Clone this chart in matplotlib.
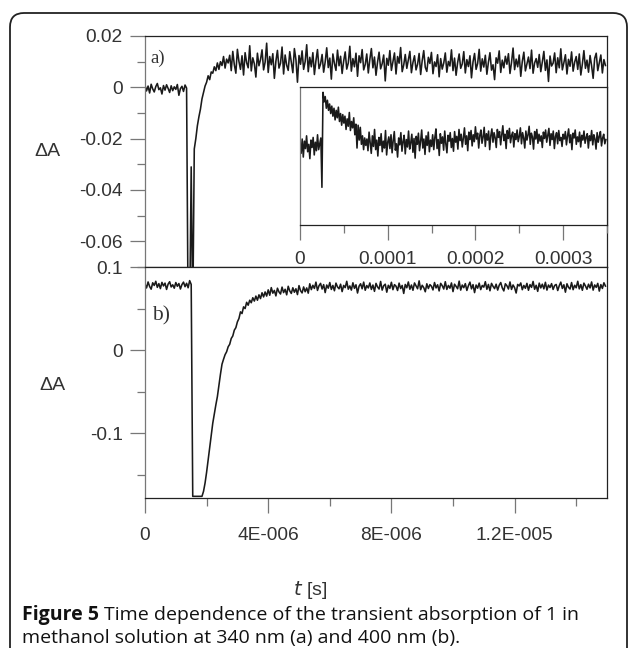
import numpy as np
import matplotlib
matplotlib.use("Agg")
import matplotlib.pyplot as plt
from matplotlib.patches import FancyBboxPatch
from matplotlib.ticker import MultipleLocator, FixedLocator, FixedFormatter

plt.rcParams['font.family'] = ['Liberation Sans', 'DejaVu Sans']

# sampling of the two main traces (s)
dt_main = 5e-8
# sampling of the long-time inset trace (s)
dt_inset = 1.25e-6

# panel a) 340 nm, dA in units of 1e-4
dA_340 = [
    8, -14, 5, -22, 12, -6, -18, 3, 15, -9, -2, -26, 7, -11, 10, -4, -20, 6, -13, 2,
    -8, 11, -31, -5, 4, -16, 9, -3,
    -900, -900, -310, -900, -240, -200, -150, -115, -85, -45, -20, 5, 20, 45, 30, 60,
    55, 80, 65, 95, 70, 100, 85, 120, 75, 110, 95,
    125, 65, 140, 88, 55, 148, 101, 70, 123, 48, 135, 96, 76, 162, 64, 115, 92, 40, 133, 84,
    108, 146, 68, 98, 172, 58, 120, 88, 131, 35, 102, 144, 75, 94, 157, 52, 126, 86, 66, 139,
    97, 57, 151, 108, 20, 124, 90, 142, 70, 100, 166, 61, 117, 80, 135, 50, 104, 147, 73, 91,
    128, 59, 99, 154, 77, 114, 32, 130, 93, 66, 145, 84, 121, 54, 102, 138, 71, 95, 160, 63,
    112, 80, 133, 43, 123, 96, 147, 68, 89, 130, 56, 109, 151, 76, 118, 47, 98, 137, 72, 92,
    126, 25, 113, 86, 143, 66, 101, 134, 52, 120, 94, 155, 61, 87, 128, 74, 106, 140, 57, 97,
    123, 68, 90, 132, 50, 104, 143, 78, 62, 117, 93, 136, 53, 99, 81, 127, 41, 112, 71, 95,
    134, 59, 101, 83, 146, 65, 114, 47, 96, 130, 74, 91, 139, 56, 108, 81, 123, 37, 99, 132,
    70, 93, 148, 63, 111, 79, 125, 51, 98, 135, 67, 88, 30, 115, 94, 142, 58, 106, 76, 121,
    90, 131, 54, 97, 153, 69, 110, 80, 126, 43, 101, 137, 64, 92, 118, 73, 145, 55, 95, 112,
    78, 128, 61, 99, 140, 66, 107, 23, 122, 83, 94, 134, 57, 115, 76, 150, 68, 96, 127, 52,
    109, 82, 138, 63, 98, 120, 70, 130, 48, 91, 143, 74, 106, 59, 124, 84, 35, 113, 133, 65,
    96, 126, 56, 108, 85,
]

# panel b) 400 nm, dA in units of 1e-4
dA_400 = [
    795, 748, 820, 766, 733, 810, 778, 828, 755, 800, 740, 815, 772, 806, 730, 794, 823, 760,
    786, 745, 813, 768, 801, 735, 789, 818, 763, 804, 750, 836, 790,
    -1760, -1760, -1760, -1760, -1760, -1760, -1760,
    -1700, -1600, -1470, -1320, -1170, -1010, -880, -770, -660, -560, -420, -290, -170, -110,
    -55, -20, 40, 70, 140, 170, 240, 270, 340, 380, 460, 440, 520, 500, 575, 540, 600, 570,
    630, 590, 650, 600, 665, 620, 690, 640, 700, 650,
    725, 660, 752, 685, 718, 652, 745, 700, 675, 758, 692, 732, 665, 768, 712, 682, 750, 696,
    738, 668, 776, 715, 688, 760, 702, 748, 685,
    798, 728, 780, 742, 818, 718, 775, 803, 735, 788, 692, 783, 745, 813, 730, 778, 714, 806, 760, 738,
    793, 704, 778, 752, 828, 733, 772, 722, 810, 743, 786, 687, 769, 798, 738, 818, 720, 777, 748, 808,
    730, 783, 707, 803, 760, 735, 826, 722, 775, 793, 697, 780, 743, 816, 727, 788, 769, 717, 806, 741,
    778, 682, 790, 750, 820, 732, 783, 720, 808, 772, 738, 833, 727, 780, 752, 702, 798, 741, 788, 769,
    724, 813, 748, 786, 712, 803, 775, 735, 823, 730, 778, 745, 808, 704, 793, 767, 738, 830, 722, 783,
    751, 800, 718, 775, 818, 737, 788, 692, 783, 745, 806, 728, 778, 758, 823, 732, 790, 714, 803, 767,
    740, 793, 722, 780, 813, 748, 712, 798, 775, 735, 820, 730, 784, 751, 687, 790, 772, 808, 727, 778,
    744, 803, 720, 788, 755, 826, 732, 780, 707, 806, 748, 793, 737, 816, 722, 783, 753, 800, 730, 778,
    790, 717, 775, 818, 742, 786, 697, 798, 755, 735, 813, 727, 780, 750, 828, 737, 788, 720, 806, 772,
    732, 793, 748, 820, 722, 784, 755, 803, 710, 788, 742, 810, 770,
]

# inset: 340 nm on the long time scale, units of 1e-4 (arbitrary offset)
dA_340_long = [
    5, -15, 12, -22, 8, -6, 18, -12, 2, -25, 10, -4, 15, -18, 6, -10, 20, -8, 3, 14,
    -79,
    100, 82, 92, 70, 85, 66, 78, 60, 74, 55, 70, 48, 66, 52, 72, 45, 60, 38, 58, 42,
    55, 30, 50, 36, 62, 28, 45, 33, 52, 20, 40, -5, 38, 10, 34, 2, 18, -8, 14, 0,
    12, -10, 25, 4, -15, 18, -2, 30, -8, 10, -20, 15, 0, 22, -12, 8, -5, 28, -18, 6,
    16, -6, 20, -14, 9, 26, -9, 3, -22, 14, 1, 24, -11, 7, 19, -16, 11, -3, 27, -7,
    5, 21, -13, 13, -24, 17, 2, 23, -10, 8, 29, -5, 12, -17, 18, 0, 25, -12, 10, -2,
    20, -8, 15, 31, -6, 11, -19, 22, 4, 16, -9, 27, 3, -14, 19, 8, 24, -4, 13, -11,
    26, 6, 17, -7, 30, 9, 21, -3, 14, 33, 2, 18, -10, 25, 11, 28, -1, 20, 7, 35,
    12, 23, -5, 19, 29, 4, 16, 34, -2, 22, 10, 27, -8, 18, 31, 6, 24, 14, -4, 30,
    15, 26, 1, 20, 37, 9, 21, -6, 28, 13, 32, 5, 19, 25, -3, 22, 11, 29, 7, 17,
    33, 3, 24, 14, -5, 27, 10, 20, 36, 2, 23, 16, -7, 26, 12, 30, 4, 21, 8, 18,
    -4, 25, 13, 29, 6, 19, 32, 0, 22, 11, 27, -6, 17, 24, 3, 28, 9, 15, -2, 21,
    12, 26, 1, 18, 31, 5, 20, -8, 23, 14, 29, 2, 16, 7, 25, -3, 19, 10, 27, 4,
    15, 22, -5, 18, 9, 28, 1, 20, 12, -7, 24, 6, 17, 26, -1, 14, 21, 3, 11,
]

bottom_ticks = [0, 4e-6, 8e-6, 1.2e-5]
bottom_labels = ["0", "4E-006", "8E-006", "1.2E-005"]
inset_ticks = [0, 1e-4, 2e-4, 3e-4]
inset_labels = ["0", "0.0001", "0.0002", "0.0003"]
a_yticks = [0.02, 0, -0.02, -0.04, -0.06]
a_ylabels = ["0.02", "0", "-0.02", "-0.04", "-0.06"]
b_yticks = [0.1, 0, -0.1]
b_ylabels = ["0.1", "0", "-0.1"]

ya = np.array(dA_340) * 1e-4
yb = np.array(dA_400) * 1e-4
yi = np.array(dA_340_long) * 1e-4
ta = np.arange(len(ya)) * dt_main
tb = np.arange(len(yb)) * dt_main
ti = np.arange(len(yi)) * dt_inset

W, H = 629, 648
fig = plt.figure(figsize=(W / 100, H / 100), dpi=100)

TXT = '#333333'
GREY = '#777777'
LINE = '#1a1a1a'


def box(l, t, r, b):
    return [l / W, 1 - b / H, (r - l) / W, (b - t) / H]


def style(ax):
    for s in ax.spines.values():
        s.set_color('#222222')
        s.set_linewidth(0.9)
    ax.spines['left'].set_color(GREY)
    ax.tick_params(which='both', colors=GREY, labelcolor=TXT, labelsize=13.8)
    ax.tick_params(which='major', length=11, width=0.9)
    ax.tick_params(which='minor', length=6, width=0.9)


ax_a = fig.add_axes(box(145, 36, 607, 267))
ax_b = fig.add_axes(box(145, 267, 607, 498))
ax_i = fig.add_axes(box(300, 87, 607, 225))

# panel a
ax_a.plot(ta, ya, color=LINE, lw=1.15)
ax_a.set_xlim(0, 1.5e-5)
ax_a.set_ylim(-0.07, 0.02)
ax_a.set_xticks([])
ax_a.yaxis.set_major_locator(FixedLocator(a_yticks))
ax_a.yaxis.set_major_formatter(FixedFormatter(a_ylabels))
ax_a.yaxis.set_minor_locator(MultipleLocator(0.01))
style(ax_a)
ax_a.tick_params(axis='y', pad=5)
ax_a.text(0.012, 0.94, "a)", transform=ax_a.transAxes, family='Liberation Serif',
          fontsize=13.5, color=TXT, va='top', ha='left')

# panel b
ax_b.plot(tb, yb, color=LINE, lw=1.15)
ax_b.set_xlim(0, 1.5e-5)
ax_b.set_ylim(-0.178, 0.1)
ax_b.xaxis.set_major_locator(FixedLocator(bottom_ticks))
ax_b.xaxis.set_major_formatter(FixedFormatter(bottom_labels))
ax_b.xaxis.set_minor_locator(MultipleLocator(2e-6))
ax_b.yaxis.set_major_locator(FixedLocator(b_yticks))
ax_b.yaxis.set_major_formatter(FixedFormatter(b_ylabels))
ax_b.yaxis.set_minor_locator(MultipleLocator(0.05))
style(ax_b)
ax_b.tick_params(axis='y', pad=5)
ax_b.tick_params(axis='x', pad=10)
ax_b.text(0.015, 0.83, "b)", transform=ax_b.transAxes, family='Liberation Serif',
          fontsize=15.5, color=TXT, va='top', ha='left')

# inset
ax_i.plot(ti, yi, color=LINE, lw=1.15)
ax_i.set_xlim(0, 3.5e-4)
ax_i.set_ylim(-0.015, 0.011)
ax_i.set_yticks([])
ax_i.xaxis.set_major_locator(FixedLocator(inset_ticks))
ax_i.xaxis.set_major_formatter(FixedFormatter(inset_labels))
ax_i.xaxis.set_minor_locator(MultipleLocator(5e-5))
style(ax_i)
ax_i.tick_params(axis='x', pad=8)

# y labels and x label
fig.text(47 / W, 1 - 152 / H, "ΔA", fontsize=14, color=TXT, ha='center', va='center')
fig.text(52 / W, 1 - 385 / H, "ΔA", fontsize=14, color=TXT, ha='center', va='center')
fig.text(310 / W, 1 - 590 / H, "$t$ [s]", fontsize=14, color=TXT, ha='center', va='center')

# caption
cap_font = 'Open Sans'
c1 = fig.text(22 / W, 1 - 615 / H, "Figure 5", fontsize=14, weight='bold', family=cap_font,
              color='#111111', va='center')
fig.canvas.draw()
ext = c1.get_window_extent()
fig.text(ext.x1 / W + 5 / W, 1 - 615 / H,
         "Time dependence of the transient absorption of 1 in", fontsize=14,
         family=cap_font, color='#111111', va='center')
fig.text(22 / W, 1 - 638 / H, "methanol solution at 340 nm (a) and 400 nm (b).",
         fontsize=14, family=cap_font, color='#111111', va='center')

# rounded frame around the figure
frame = FancyBboxPatch((10, -30), 617, H - 13 + 30, boxstyle="round,pad=0,rounding_size=14",
                       transform=None, fill=False, edgecolor='#222222', lw=1.3)
fig.add_artist(frame)

fig.savefig("out.png", dpi=100)
